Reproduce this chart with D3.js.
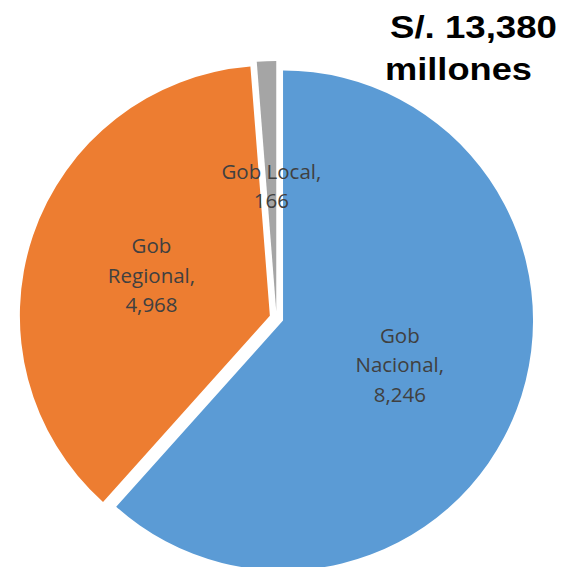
<!DOCTYPE html>
<meta charset="utf-8">
<style>
    body { margin: 0; background: #fff; }
    .lbl { font-family: "Open Sans", sans-serif; font-size: 20.5px; fill: #404040; }
    .title { font-family: "Liberation Sans", Arial, sans-serif; font-weight: bold; font-size: 31px; fill: #000; }
</style>
<body>
<svg></svg>
</body>
<script src="https://d3js.org/d3.v7.min.js"></script>
<script>
    var names = ["Gob Nacional", "Gob Regional", "Gob Local"];
    var values = [8246, 4968, 166];
    var colors = ["#5B9BD5", "#ED7D31", "#A5A5A5"];
    var titleLines = ["S/. 13,380", "millones"];

    var width = 565, height = 567;
    var cx = 276.5, cy = 318, radius = 250, explode = 7;
    var fmt = d3.format(",");

    var svg = d3.select("svg")
        .attr("width", width)
        .attr("height", height);

    var pie = d3.pie().sort(null).value(function (d) { return d; });
    var arcs = pie(values);

    var arc = d3.arc().innerRadius(0).outerRadius(radius);

    // each slice is pulled out a little along its middle angle
    function shift(d) {
        var a = (d.startAngle + d.endAngle) / 2;
        return [Math.sin(a) * explode, -Math.cos(a) * explode];
    }

    var g = svg.append("g").attr("transform", "translate(" + cx + "," + cy + ")");

    g.selectAll("path")
        .data(arcs)
        .enter().append("path")
        .attr("d", arc)
        .attr("transform", function (d) { var s = shift(d); return "translate(" + s[0] + "," + s[1] + ")"; })
        .style("fill", function (d, i) { return colors[i]; });

    var lineSets = [
        ["Gob", "Nacional,", fmt(values[0])],
        ["Gob", "Regional,", fmt(values[1])],
        ["Gob Local,", fmt(values[2])]
    ];

    g.selectAll("text.lbl")
        .data(arcs)
        .enter().append("text")
        .attr("class", "lbl")
        .attr("text-anchor", "middle")
        .each(function (d, i) {
            var c = arc.centroid(d), s = shift(d);
            var lines = lineSets[i];
            var lh = 29.5;
            var y0 = c[1] + s[1] - (lines.length - 1) * lh / 2;
            d3.select(this).selectAll("tspan")
                .data(lines)
                .enter().append("tspan")
                .attr("x", c[0] + s[0])
                .attr("y", function (t, k) { return y0 + k * lh; })
                .attr("dy", "0.35em")
                .text(function (t) { return t; });
        });

    var titleRight = [557, 532], titleWidth = [167, 147];
    svg.append("text")
        .attr("class", "title")
        .selectAll("tspan")
        .data(titleLines)
        .enter().append("tspan")
        .attr("x", function (t, k) { return titleRight[k] - titleWidth[k]; })
        .attr("y", function (t, k) { return 38 + k * 42; })
        .attr("textLength", function (t, k) { return titleWidth[k]; })
        .attr("lengthAdjust", "spacingAndGlyphs")
        .text(function (t) { return t; });
</script>
</html>
